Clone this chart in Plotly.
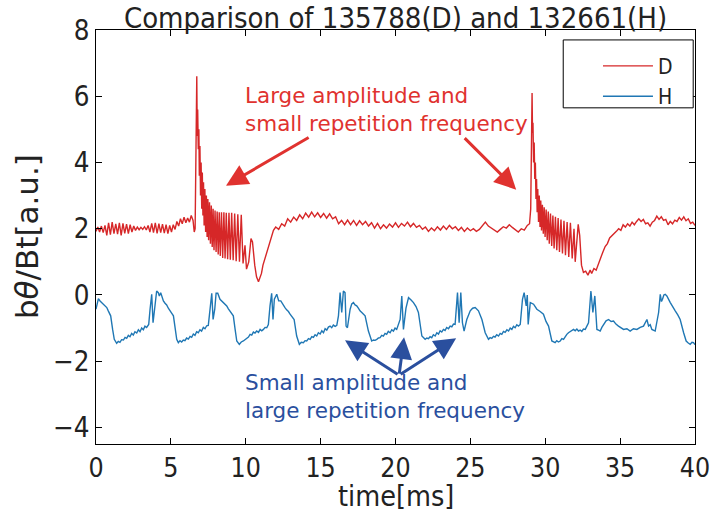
import plotly.graph_objects as go

# ---------------- data ----------------
d_time = [0.00, 0.12, 0.24, 0.36, 0.48, 0.60, 0.72, 0.84, 0.96, 1.08, 1.20, 1.32, 1.44, 1.56, 1.68, 1.80,
          1.92, 2.04, 2.16, 2.28, 2.40, 2.52, 2.64, 2.76, 2.88, 3.00, 3.12, 3.24, 3.36, 3.48, 3.60, 3.72,
          3.84, 3.96, 4.08, 4.20, 4.32, 4.44, 4.56, 4.68, 4.80, 4.92, 5.04, 5.16, 5.28, 5.40, 5.52, 5.64,
          5.76, 5.88, 6.00, 6.12, 6.24, 6.36, 6.48, 6.56,
          6.62, 6.68, 6.73, 6.76, 6.79, 6.83, 6.87, 6.90, 6.94, 6.98, 7.02, 7.06, 7.10, 7.14, 7.18, 7.22,
          7.27, 7.32, 7.37, 7.42, 7.47, 7.52, 7.58, 7.64, 7.70, 7.76, 7.82, 7.88, 7.95, 8.02, 8.09, 8.16,
          8.23, 8.30, 8.38, 8.46, 8.54, 8.62, 8.70, 8.79, 8.88, 8.97, 9.06, 9.16, 9.26, 9.36, 9.47, 9.58,
          9.70, 9.82, 9.95, 10.05, 10.20, 10.35, 10.45, 10.60, 10.72, 10.85, 10.95, 11.05, 11.15, 11.25,
          11.35, 11.45, 11.55, 11.65, 11.75, 11.85,
          12.0, 12.2, 12.4, 12.6, 12.8, 13.0, 13.2, 13.4, 13.6, 13.8, 14.0, 14.2, 14.4, 14.6, 14.8, 15.0,
          15.2, 15.4, 15.6, 15.8, 16.0, 16.2, 16.4, 16.6, 16.8, 17.0, 17.2, 17.4, 17.6, 17.8, 18.0, 18.2,
          18.4, 18.6, 18.8, 19.0, 19.2, 19.4, 19.6, 19.8, 20.0, 20.2, 20.4, 20.6, 20.8, 21.0, 21.2, 21.4,
          21.6, 21.8, 22.0, 22.2, 22.4, 22.6, 22.8, 23.0, 23.2, 23.4, 23.6, 23.8, 24.0, 24.2, 24.4, 24.6,
          24.8, 25.0, 25.2, 25.4, 25.6, 25.8, 26.0, 26.2, 26.4, 26.6, 26.8, 27.0, 27.2, 27.4, 27.6, 27.8,
          28.0, 28.2, 28.4, 28.6, 28.8, 28.95,
          29.03, 29.08, 29.12, 29.15, 29.18, 29.22, 29.26, 29.30, 29.34, 29.38, 29.42, 29.46, 29.50, 29.55,
          29.60, 29.65, 29.70, 29.75, 29.81, 29.87, 29.93, 29.99, 30.06, 30.13, 30.20, 30.27, 30.35, 30.43,
          30.51, 30.59, 30.68, 30.77, 30.86, 30.95, 31.05, 31.15, 31.25, 31.35, 31.46, 31.57, 31.68, 31.80,
          31.92, 32.00, 32.10, 32.20, 32.30, 32.42, 32.55, 32.70, 32.85, 33.00, 33.10, 33.25, 33.40, 33.55,
          33.70, 33.85, 34.00, 34.15, 34.30, 34.45, 34.60, 34.75,
          34.90, 35.05, 35.20, 35.35, 35.50, 35.65, 35.80, 35.95, 36.10, 36.25, 36.40, 36.55, 36.70, 36.85,
          37.00, 37.15, 37.30, 37.45, 37.60, 37.75, 37.90, 38.05, 38.20, 38.35, 38.50, 38.65, 38.80, 38.95,
          39.10, 39.25, 39.40, 39.55, 39.70, 39.85, 40.00]
d_val = [1.92, 2.05, 1.90, 2.08, 1.88, 2.10, 1.80, 2.18, 1.82, 2.20, 1.85, 2.15, 1.84, 2.18, 1.80, 2.16,
         1.86, 2.14, 1.85, 2.12, 1.90, 2.08, 1.95, 2.05, 1.97, 2.04, 1.98, 2.06, 1.96, 2.10, 1.90, 2.16,
         1.88, 2.18, 1.86, 2.15, 1.88, 2.14, 1.87, 2.12, 1.85, 2.10, 1.90, 2.12, 1.98, 2.22, 2.08, 2.30,
         2.15, 2.35, 2.18, 2.32, 2.20, 2.40, 2.25, 1.90,
         2.00, 5.20, 6.60, 4.80, 5.60, 4.40, 5.00, 3.60, 4.50, 3.00, 4.00, 2.60, 3.70, 2.40, 3.40, 2.10,
         3.20, 1.90, 3.00, 1.75, 2.90, 1.65, 2.80, 1.55, 2.70, 1.45, 2.60, 1.35, 2.55, 1.30, 2.52, 1.22,
         2.50, 1.18, 2.50, 1.12, 2.50, 1.10, 2.48, 1.08, 2.48, 1.06, 2.48, 1.05, 2.46, 1.02, 2.44, 1.00,
         2.42, 0.95, 1.50, 0.78, 1.00, 1.70, 1.60, 0.90, 0.55, 0.40, 0.50, 0.65, 0.90, 1.05,
         1.20, 1.40, 1.55, 1.70, 1.80, 1.95,
         2.05, 1.98, 2.15, 2.08, 2.30, 2.20, 2.35, 2.25, 2.42, 2.30, 2.47, 2.35, 2.50, 2.36, 2.48, 2.34,
         2.46, 2.32, 2.45, 2.30, 2.36, 2.15, 2.25, 2.12, 2.26, 2.12, 2.25, 2.10, 2.24, 2.12, 2.22, 2.08,
         2.18, 2.02, 2.16, 2.00, 2.12, 2.02, 2.14, 2.05, 2.18, 2.04, 2.16, 2.08, 2.20, 2.06, 2.16, 2.04,
         2.10, 1.98, 2.05, 1.92, 2.02, 1.94, 2.06, 1.96, 2.08, 1.98, 2.10, 2.00, 2.06, 1.95, 2.04, 1.92,
         2.02, 1.94, 2.00, 1.92, 1.98, 2.10, 2.20, 2.08, 2.02, 1.94, 1.90, 1.98, 2.06, 2.02, 2.12, 2.04,
         1.98, 1.90, 2.00, 1.96, 2.10, 2.15,
         2.60, 5.50, 6.10, 4.90, 5.20, 4.00, 4.60, 3.50, 4.00, 2.90, 3.50, 2.50, 3.20, 2.20,
         3.00, 2.05, 2.85, 1.95, 2.72, 1.85, 2.65, 1.75, 2.58, 1.65, 2.52, 1.55, 2.46, 1.48,
         2.40, 1.40, 2.36, 1.35, 2.32, 1.30, 2.28, 1.25, 2.24, 1.20, 2.20, 1.15, 2.18, 1.10,
         2.00, 1.00, 1.60, 2.13, 1.80, 0.90, 0.68, 0.72, 0.60, 0.75, 0.65, 0.80, 0.75, 0.95,
         1.08, 1.30, 1.46, 1.55, 1.72, 1.78, 1.85, 1.92,
         2.00, 1.95, 2.12, 2.05, 2.15, 2.08, 2.20, 2.12, 2.22, 2.30, 2.22, 2.28, 2.15, 2.18,
         2.08, 2.20, 2.25, 2.38, 2.28, 2.36, 2.25, 2.28, 2.12, 2.22, 2.15, 2.26, 2.22, 2.34,
         2.26, 2.36, 2.24, 2.30, 2.16, 2.20, 2.10]

h_time = [0.00, 0.16, 0.27, 0.38, 0.50, 0.60, 0.72, 0.82, 0.90, 0.98, 1.11, 1.22, 1.38, 1.49, 1.60, 1.71,
          1.83, 1.94, 2.05, 2.16, 2.27, 2.38, 2.49, 2.60, 2.72, 2.83, 2.94, 3.05, 3.16, 3.27, 3.38, 3.52,
          3.61, 3.72, 3.81, 3.92, 4.05, 4.16, 4.23, 4.32, 4.50, 4.61, 4.72, 4.83, 4.94, 5.05, 5.17, 5.28,
          5.39, 5.50, 5.61, 5.72, 5.83, 5.94, 6.05, 6.17, 6.28, 6.39, 6.50, 6.61, 6.72, 6.83, 6.94, 7.05,
          7.17, 7.28, 7.39, 7.50, 7.62, 7.73, 7.82, 7.93, 8.02, 8.13, 8.28, 8.40, 8.51, 8.62, 8.73, 8.84,
          8.95, 9.06, 9.17, 9.29, 9.40, 9.57, 9.70, 9.84, 9.95, 10.07, 10.18, 10.29, 10.40, 10.51, 10.62,
          10.73, 10.85, 10.96, 11.07, 11.18, 11.29, 11.40, 11.51, 11.62, 11.73, 11.82, 11.91, 12.07, 12.20,
          12.34, 12.51, 12.62, 12.73, 12.85, 12.96, 13.10, 13.23, 13.40, 13.58, 13.71, 13.85, 13.96, 14.07,
          14.19, 14.30, 14.41, 14.52, 14.63, 14.74, 14.85, 14.97, 15.08, 15.19, 15.30, 15.41, 15.52, 15.63,
          15.74, 15.85, 15.97, 16.08, 16.19, 16.30, 16.41, 16.52, 16.63, 16.70, 16.79, 16.97, 17.08, 17.19,
          17.30, 17.41, 17.52, 17.63, 17.80, 17.97, 18.19, 18.41, 18.53, 18.64, 18.75, 18.86, 18.97, 19.08,
          19.19, 19.30, 19.41, 19.52, 19.64, 19.75, 19.86, 19.97, 20.08, 20.20, 20.31, 20.42, 20.53, 20.70,
          20.87, 21.04, 21.20, 21.37, 21.53, 21.76, 21.98, 22.09, 22.20, 22.31, 22.42, 22.53, 22.65, 22.76,
          22.87, 22.98, 23.09, 23.20, 23.31, 23.42, 23.54, 23.65, 23.76, 23.87, 23.98, 24.14, 24.25, 24.36,
          24.47, 24.58, 24.76, 24.99, 25.15, 25.32, 25.54, 25.77, 25.99, 26.21, 26.32, 26.43, 26.54, 26.65,
          26.76, 26.88, 26.99, 27.10, 27.21, 27.32, 27.44, 27.55, 27.66, 27.77, 27.88, 27.99, 28.10, 28.21,
          28.33, 28.48, 28.59, 28.73, 28.80, 28.86, 29.00, 29.22, 29.33, 29.44, 29.66, 29.88, 30.05, 30.22,
          30.44, 30.66, 30.77, 30.88, 31.00, 31.11, 31.22, 31.33, 31.44, 31.55, 31.66, 31.77, 31.89, 32.00,
          32.11, 32.22, 32.33, 32.44, 32.55, 32.67, 32.78, 32.89, 33.05, 33.18, 33.31, 33.45, 33.56, 33.67,
          33.78, 33.89, 34.06, 34.23, 34.40, 34.56, 34.72, 34.89, 35.06, 35.23, 35.45, 35.67, 35.89, 36.12,
          36.34, 36.56, 36.79, 36.90, 37.01, 37.12, 37.34, 37.57, 37.68, 37.76, 37.83, 37.92, 38.01, 38.12,
          38.35, 38.52, 38.68, 38.85, 39.01, 39.24, 39.41, 39.55, 39.68, 39.80, 39.90, 40.00]
h_val = [-0.43, -0.11, -0.18, -0.23, -0.27, -0.33, -0.38, -0.48, -0.55, -0.63, -1.04, -1.34, -1.46, -1.40, -1.43, -1.35,
         -1.36, -1.28, -1.31, -1.22, -1.26, -1.16, -1.21, -1.11, -1.15, -1.05, -1.11, -1.00, -1.05, -0.94, -0.98, -0.89,
         -0.43, 0.02, -0.84, -0.43, 0.12, 0.07, -0.03, 0.07, -0.18, -0.25, -0.30, -0.40, -0.46, -0.55, -0.63, -0.98,
         -1.34, -1.44, -1.38, -1.42, -1.36, -1.38, -1.30, -1.33, -1.25, -1.28, -1.18, -1.22, -1.11, -1.14, -1.05, -1.09,
         -0.98, -1.02, -0.93, -0.92, -0.43, 0.05, -0.74, -0.43, 0.05, 0.05, -0.13, -0.18, -0.23, -0.30, -0.33, -0.42,
         -0.48, -0.55, -0.63, -1.04, -1.39, -1.49, -1.42, -1.39, -1.35, -1.30, -1.27, -1.19, -1.21, -1.12, -1.15,
         -1.09, -1.13, -1.04, -1.08, -1.04, -0.98, -0.99, -0.89, -0.33, 0.05, -0.74, -0.13, 0.02, -0.18,
         -0.18, -0.33, -0.38, -0.45, -0.50, -0.58, -0.65, -0.74, -1.24, -1.49, -1.43, -1.44, -1.38, -1.39,
         -1.32, -1.34, -1.26, -1.28, -1.20, -1.24, -1.14, -1.18, -1.08, -1.14, -1.02, -1.06, -0.97, -0.94,
         -0.99, -0.91, -0.95, -0.92, -0.63, 0.07, -0.53, 0.12, 0.07, -0.94, -0.99, -0.43, -0.27, -0.23,
         -0.30, -0.33, -0.40, -0.48, -0.55, -0.63, -1.09, -1.39, -1.36, -1.37, -1.34, -1.30, -1.29, -1.22,
         -1.24, -1.16, -1.19, -1.10, -1.14, -1.05, -1.09, -1.00, -1.04, -0.85, -0.74, -0.03, -1.04, -0.40,
         -0.08, -0.15, -0.23, -0.35, -0.53, -1.24, -1.34, -1.30, -1.32, -1.26, -1.29, -1.20, -1.24, -1.14,
         -1.18, -1.08, -1.12, -1.04, -1.07, -0.98, -1.02, -0.94, -0.96, -0.88, -0.89, 0.07, -0.84, 0.07,
         -0.84, -1.09, -0.74, -0.48, -0.40, -0.38, -0.48, -0.74, -1.14, -1.34, -1.29, -1.31, -1.25, -1.27,
         -1.20, -1.24, -1.16, -1.19, -1.10, -1.13, -1.05, -1.09, -1.00, -1.04, -0.95, -0.99, -0.90, -0.94,
         -0.89, -0.13, 0.07, -0.33, 0.00, -0.89, -0.23, -0.28, -0.36, -0.43, -0.50, -0.58, -0.80, -0.94,
         -1.39, -1.44, -1.38, -1.42, -1.39, -1.32, -1.34, -1.24, -1.19, -1.14, -1.11, -1.06, -1.04, -1.08,
         -1.03, -1.09, -1.06, -1.10, -1.03, -1.04, -0.95, -0.84, 0.12, -0.53, -0.03, -1.04, -1.06, -1.09,
         -0.98, -0.89, -0.78, -0.74, -0.80, -0.79, -0.88, -0.94, -0.98, -1.04, -1.02, -1.09, -1.02, -1.04,
         -0.98, -0.94, -0.74, -0.94, -0.90, -1.04, -1.09, -0.53, 0.02, -0.20, -0.13, 0.00, 0.02, -0.03,
         -0.23, -0.38, -0.48, -0.60, -0.74, -1.14, -1.39, -1.45, -1.49, -1.43, -1.44, -1.50]

x_ticks = [0, 5, 10, 15, 20, 25, 30, 35, 40]
y_ticks = [-4, -2, 0, 2, 4, 6, 8]

title_text = "Comparison of 135788(D) and 132661(H)"
x_title = "time[ms]"
y_title = "b<i>θ</i>/Bt[a.u.]"
red_note = "Large amplitude and<br>small repetition frequency"
blue_note = "Small amplitude and<br>large repetition frequency"

# annotation anchor points (data units)
note_x = 9.82
red_note_y = 5.59
blue_note_y = -3.06
red_arrows = [((14.3, 4.78), (8.68, 3.30)), ((24.52, 4.78), (28.06, 3.18))]
blue_arrows = [((20.24, -2.42), (16.63, -1.37)), ((20.24, -2.42), (20.57, -1.28)),
               ((20.24, -2.42), (24.05, -1.31))]

RED = "#d62728"
BLUE = "#1f77b4"
NOTE_RED = "#e0322f"
NOTE_BLUE = "#2a4f9e"
TXT = "#222222"
FONT = "DejaVu Sans"
FONT_C = "DejaVu Sans Condensed, DejaVu Sans"
NOTE_FONT = "DejaVu Sans"

fig = go.Figure()
fig.add_trace(go.Scatter(x=d_time, y=d_val, mode="lines", name="D",
                         line=dict(color=RED, width=1.4)))
fig.add_trace(go.Scatter(x=h_time, y=h_val, mode="lines", name="H",
                         line=dict(color=BLUE, width=1.4)))

annotations = []
annotations.append(dict(x=note_x, y=red_note_y, xref="x", yref="y", text=red_note,
                        showarrow=False, xanchor="left", yanchor="middle", align="left",
                        font=dict(family=NOTE_FONT, size=21.5, color=NOTE_RED)))
annotations.append(dict(x=note_x, y=blue_note_y, xref="x", yref="y", text=blue_note,
                        showarrow=False, xanchor="left", yanchor="middle", align="left",
                        font=dict(family=NOTE_FONT, size=21.5, color=NOTE_BLUE)))
for (tail, head) in red_arrows:
    annotations.append(dict(x=head[0], y=head[1], ax=tail[0], ay=tail[1], xref="x", yref="y",
                            axref="x", ayref="y", text="", showarrow=True, arrowhead=2,
                            arrowsize=1.45, arrowwidth=3, arrowcolor=NOTE_RED, standoff=0))
for (tail, head) in blue_arrows:
    annotations.append(dict(x=head[0], y=head[1], ax=tail[0], ay=tail[1], xref="x", yref="y",
                            axref="x", ayref="y", text="", showarrow=True, arrowhead=2,
                            arrowsize=1.45, arrowwidth=3, arrowcolor=NOTE_BLUE, standoff=0))
# axis titles
annotations.append(dict(x=0.5, y=-0.128, xref="paper", yref="paper", text=x_title, showarrow=False,
                        xanchor="center", yanchor="middle",
                        font=dict(family=FONT_C, size=28.5, color=TXT)))
annotations.append(dict(x=-0.115, y=0.5, xref="paper", yref="paper", text=y_title, showarrow=False,
                        textangle=-90, xanchor="center", yanchor="middle",
                        font=dict(family=FONT, size=31, color=TXT)))

# legend frame (decoration)
shapes = [dict(type="rect", xref="paper", yref="paper", x0=0.780, x1=0.997, y0=0.812, y1=0.976,
               line=dict(color="black", width=1), fillcolor="white", layer="above")]

fig.update_layout(
    width=713, height=516,
    margin=dict(l=96, r=18, t=30, b=72, autoexpand=False),
    paper_bgcolor="white", plot_bgcolor="white",
    font=dict(family=FONT, color=TXT),
    title=dict(text=title_text, x=0.5, xref="paper", y=1 - 17.5 / 516, yanchor="middle",
               font=dict(family=FONT_C, size=29, color=TXT)),
    showlegend=True,
    legend=dict(x=0.838, y=0.962, xanchor="left", yanchor="top", borderwidth=0,
                bgcolor="rgba(0,0,0,0)", font=dict(family=FONT_C, size=21, color=TXT),
                itemwidth=50),
    annotations=annotations,
    shapes=shapes,
)
fig.update_xaxes(range=[0, 40], tickvals=x_ticks, ticks="inside", ticklen=6, tickcolor="black",
                 showline=True, linecolor="black", linewidth=1, mirror="ticks", showgrid=False,
                 zeroline=False, automargin=False,
                 tickfont=dict(family=FONT_C, size=26.5, color=TXT))
fig.update_yaxes(range=[-4.5, 8], tickvals=y_ticks, ticks="inside", ticklen=6, tickcolor="black",
                 showline=True, linecolor="black", linewidth=1, mirror="ticks", showgrid=False,
                 zeroline=False, automargin=False,
                 tickfont=dict(family=FONT_C, size=27.5, color=TXT))

fig.write_html("out.html")
